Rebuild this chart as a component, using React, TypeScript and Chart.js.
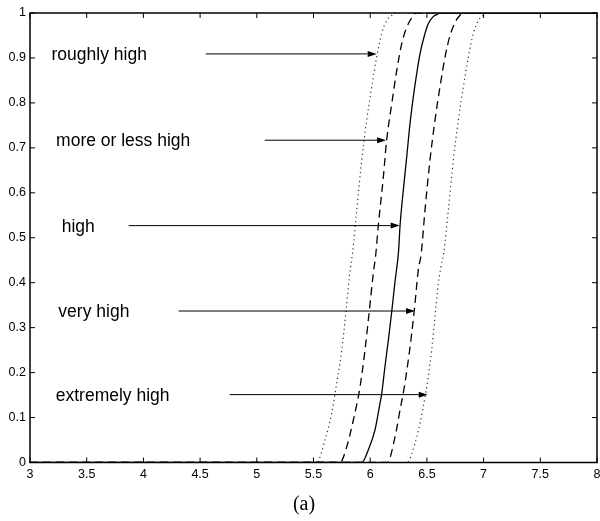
import React, { useEffect, useRef } from "react";
import { Chart, registerables } from "chart.js";

Chart.register(...registerables);

// ---- data ----
const roughlyX = [3, 5.528, 5.601, 5.66, 5.704, 5.749, 5.787, 5.816, 5.846, 5.881, 5.925, 5.969, 6.013, 6.057, 6.101, 6.145, 6.19, 6.21, 8];
const roughlyY = [0, 0, 0.05, 0.109, 0.176, 0.25, 0.337, 0.413, 0.47, 0.561, 0.672, 0.761, 0.835, 0.902, 0.954, 0.983, 0.995, 1, 1];

const moreLessX = [3, 5.734, 5.793, 5.851, 5.91, 5.954, 5.992, 6.027, 6.05, 6.071, 6.116, 6.145, 6.19, 6.234, 6.278, 6.322, 6.38, 6.404, 8];
const moreLessY = [0, 0, 0.035, 0.094, 0.168, 0.25, 0.337, 0.42, 0.465, 0.526, 0.635, 0.717, 0.798, 0.872, 0.932, 0.968, 0.994, 1, 1];

const highX = [3, 5.925, 5.983, 6.042, 6.086, 6.101, 6.13, 6.16, 6.19, 6.219, 6.25, 6.263, 6.292, 6.322, 6.351, 6.38, 6.41, 6.439, 6.474, 6.512, 6.556, 6.592, 6.615, 8];
const highY = [0, 0, 0.028, 0.072, 0.131, 0.152, 0.213, 0.272, 0.336, 0.403, 0.47, 0.526, 0.606, 0.68, 0.754, 0.813, 0.865, 0.909, 0.946, 0.976, 0.992, 0.997, 1, 1];

const veryX = [3, 6.151, 6.219, 6.263, 6.301, 6.336, 6.366, 6.395, 6.424, 6.45, 6.483, 6.527, 6.571, 6.615, 6.66, 6.704, 6.757, 6.792, 6.815, 8];
const veryY = [0, 0, 0.057, 0.117, 0.168, 0.228, 0.287, 0.354, 0.428, 0.465, 0.561, 0.672, 0.761, 0.835, 0.902, 0.95, 0.983, 0.995, 1, 1];

const extremelyX = [3, 6.322, 6.41, 6.468, 6.512, 6.542, 6.571, 6.6, 6.624, 6.65, 6.689, 6.733, 6.777, 6.821, 6.865, 6.909, 6.953, 6.997, 7.02, 8];
const extremelyY = [0, 0, 0.057, 0.124, 0.191, 0.25, 0.324, 0.398, 0.435, 0.47, 0.561, 0.672, 0.761, 0.835, 0.902, 0.954, 0.983, 0.995, 1, 1];

const xMin = 3;
const xMax = 8;
const xStep = 0.5;
const xTickLabels = ["3", "3.5", "4", "4.5", "5", "5.5", "6", "6.5", "7", "7.5", "8"];
const yMin = 0;
const yMax = 1;
const yStep = 0.1;
const yTickLabels = ["0", "0.1", "0.2", "0.3", "0.4", "0.5", "0.6", "0.7", "0.8", "0.9", "1"];

const labels = ["roughly high", "more or less high", "high", "very high", "extremely high"];
const labelX = [3.19, 3.23, 3.28, 3.25, 3.227];
const arrowY = [0.909, 0.717, 0.527, 0.337, 0.151];
const arrowStartX = [4.55, 5.07, 3.87, 4.31, 4.76];
const arrowEndX = [6.057, 6.14, 6.26, 6.395, 6.507];

const caption = "(a)";

const SANS = "'Liberation Sans', Arial, Helvetica, sans-serif";
const SERIF = "'Liberation Serif', 'Times New Roman', serif";

function toPoints(xs: number[], ys: number[]) {
  return xs.map((x, i) => ({ x, y: ys[i] }));
}

const decorPlugin = {
  id: "decor",
  afterDatasetsDraw(chart: any) {
    const { ctx, chartArea, scales } = chart;
    const xs = scales.x;
    const ys = scales.y;
    const { left, right, top, bottom } = chartArea;
    ctx.save();
    ctx.strokeStyle = "#000";
    ctx.fillStyle = "#000";

    // box
    ctx.lineWidth = 1.5;
    ctx.strokeRect(left, top, right - left, bottom - top);

    // inward ticks
    ctx.lineWidth = 1;
    const tl = 5;
    xs.ticks.forEach((t: any) => {
      const px = xs.getPixelForValue(t.value);
      ctx.beginPath();
      ctx.moveTo(px, bottom);
      ctx.lineTo(px, bottom - tl);
      ctx.moveTo(px, top);
      ctx.lineTo(px, top + tl);
      ctx.stroke();
    });
    ys.ticks.forEach((t: any) => {
      const py = ys.getPixelForValue(t.value);
      ctx.beginPath();
      ctx.moveTo(left, py);
      ctx.lineTo(left + tl, py);
      ctx.moveTo(right, py);
      ctx.lineTo(right - tl, py);
      ctx.stroke();
    });

    // arrows + labels
    ctx.font = `17.5px ${SANS}`;
    ctx.textAlign = "left";
    ctx.textBaseline = "alphabetic";
    labels.forEach((lab, i) => {
      const py = ys.getPixelForValue(arrowY[i]);
      const x0 = xs.getPixelForValue(arrowStartX[i]);
      const x1 = xs.getPixelForValue(arrowEndX[i]);
      const head = 9;
      ctx.lineWidth = 1;
      ctx.beginPath();
      ctx.moveTo(x0, py);
      ctx.lineTo(x1 - head, py);
      ctx.stroke();
      ctx.beginPath();
      ctx.moveTo(x1, py);
      ctx.lineTo(x1 - head, py - 3);
      ctx.lineTo(x1 - head, py + 3);
      ctx.closePath();
      ctx.fill();
      ctx.fillText(lab, xs.getPixelForValue(labelX[i]), py + 6);
    });

    // caption
    ctx.font = `20px ${SERIF}`;
    ctx.textAlign = "center";
    ctx.textBaseline = "middle";
    ctx.fillText(caption, 304, 505);
    ctx.restore();
  },
};

export default function App() {
  const ref = useRef<HTMLCanvasElement | null>(null);
  useEffect(() => {
    document.body.style.margin = "0";
    const canvas = ref.current;
    if (!canvas) return;
    const common = {
      fill: false,
      pointRadius: 0,
      borderColor: "#000",
      cubicInterpolationMode: "monotone" as const,
    };
    const dotted = { borderWidth: 1.2, borderDash: [1.2, 3.3], borderColor: "#333" };
    const dashed = { borderWidth: 1.3, borderDash: [8, 5] };
    const chart = new Chart(canvas, {
      type: "line",
      data: {
        datasets: [
          { ...common, ...dotted, label: "roughly high", data: toPoints(roughlyX, roughlyY) },
          { ...common, ...dashed, label: "more or less high", data: toPoints(moreLessX, moreLessY) },
          { ...common, label: "high", data: toPoints(highX, highY), borderWidth: 1.3 },
          { ...common, ...dashed, label: "very high", data: toPoints(veryX, veryY) },
          { ...common, ...dotted, label: "extremely high", data: toPoints(extremelyX, extremelyY) },
        ],
      },
      options: {
        animation: false,
        responsive: false,
        devicePixelRatio: 1,
        layout: { padding: { top: 13, right: 3, left: 0, bottom: 0 } },
        plugins: { legend: { display: false }, tooltip: { enabled: false } },
        scales: {
          x: {
            type: "linear",
            min: xMin,
            max: xMax,
            ticks: {
              stepSize: xStep,
              color: "#000",
              font: { size: 12.5, family: SANS },
              padding: 5,
              maxRotation: 0,
              autoSkip: false,
              callback: (_v: any, i: number) => xTickLabels[i],
            },
            grid: { display: false, drawTicks: false },
            border: { display: false },
            afterFit: (s: any) => {
              s.height = 58.5;
              s.paddingLeft = 0;
              s.paddingRight = 0;
            },
          },
          y: {
            type: "linear",
            min: yMin,
            max: yMax,
            ticks: {
              stepSize: yStep,
              color: "#000",
              font: { size: 12.5, family: SANS },
              padding: 4,
              autoSkip: false,
              callback: (_v: any, i: number) => yTickLabels[i],
            },
            grid: { display: false, drawTicks: false },
            border: { display: false },
            afterFit: (s: any) => {
              s.width = 30;
              s.paddingTop = 0;
              s.paddingBottom = 0;
            },
          },
        },
      },
      plugins: [decorPlugin],
    });
    return () => chart.destroy();
  }, []);
  return (
    <div style={{ width: 600, height: 521, background: "#fff" }}>
      <canvas ref={ref} width={600} height={521} style={{ display: "block" }} />
    </div>
  );
}
